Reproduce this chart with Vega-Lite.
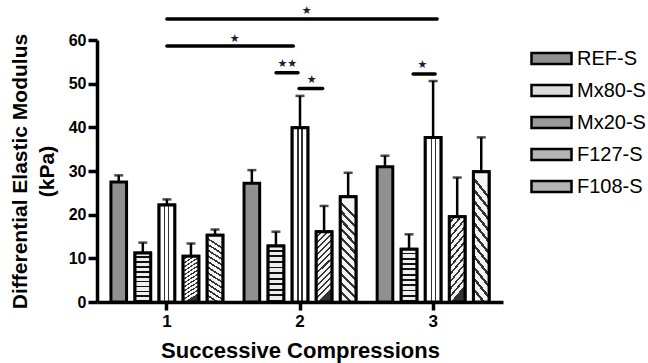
{
  "$schema": "https://vega.github.io/schema/vega-lite/v6.json",
  "width": 406,
  "height": 262,
  "autosize": {"type": "none"},
  "padding": {"left": 97, "top": 40, "right": 145, "bottom": 61},
  "background": "white",
  "config": {
    "view": {"stroke": null},
    "font": "Liberation Sans",
    "axis": {"grid": false, "domainColor": "black", "tickColor": "black", "labelColor": "black", "titleColor": "black", "labelFont": "Liberation Sans", "titleFont": "Liberation Sans", "labelFontWeight": "bold", "titleFontWeight": "bold"}
  },
  "datasets": {
    "bars": [
      {"group": "1", "series": "REF-S", "value": 27.5, "upper": 29.0},
      {"group": "1", "series": "Mx20-S", "value": 11.2, "upper": 13.6},
      {"group": "1", "series": "Mx80-S", "value": 22.2, "upper": 23.5},
      {"group": "1", "series": "F127-S", "value": 10.5, "upper": 13.4},
      {"group": "1", "series": "F108-S", "value": 15.3, "upper": 16.6},
      {"group": "2", "series": "REF-S", "value": 27.2, "upper": 30.2},
      {"group": "2", "series": "Mx20-S", "value": 12.8, "upper": 16.1},
      {"group": "2", "series": "Mx80-S", "value": 39.9, "upper": 47.2},
      {"group": "2", "series": "F127-S", "value": 16.1, "upper": 22.0},
      {"group": "2", "series": "F108-S", "value": 24.1, "upper": 29.6},
      {"group": "3", "series": "REF-S", "value": 31.0, "upper": 33.5},
      {"group": "3", "series": "Mx20-S", "value": 12.1, "upper": 15.5},
      {"group": "3", "series": "Mx80-S", "value": 37.7, "upper": 50.6},
      {"group": "3", "series": "F127-S", "value": 19.5, "upper": 28.5},
      {"group": "3", "series": "F108-S", "value": 29.8, "upper": 37.7}
    ],
    "sig": [
      {"x": 1.0, "x2": 3.03, "y": 64.8},
      {"x": 1.0, "x2": 1.95, "y": 58.6},
      {"x": 1.82, "x2": 1.985, "y": 52.5},
      {"x": 1.993, "x2": 2.17, "y": 48.9},
      {"x": 2.85, "x2": 3.015, "y": 52.2}
    ],
    "stars": [
      {"x": 2.05, "y": 66.6, "label": "★"},
      {"x": 1.51, "y": 60.3, "label": "★"},
      {"x": 1.905, "y": 54.4, "label": "★★"},
      {"x": 2.088, "y": 50.8, "label": "★"},
      {"x": 2.92, "y": 54.2, "label": "★"}
    ]
  },
  "layer": [
    {
      "data": {"name": "bars"},
      "encoding": {
        "x": {"field": "group", "type": "nominal", "scale": {"paddingInner": 0, "paddingOuter": 0.025},
          "axis": {"title": "Successive Compressions", "labelAngle": 0, "labelFontSize": 17, "titleFontSize": 22, "labelPadding": 3, "titlePadding": 11, "domainWidth": 3.5, "tickWidth": 3.5, "tickSize": 8}},
        "xOffset": {"field": "series", "type": "nominal", "sort": ["REF-S", "Mx20-S", "Mx80-S", "F127-S", "F108-S"], "scale": {"paddingInner": 0.35, "paddingOuter": 0.44}},
        "y": {"field": "value", "type": "quantitative", "scale": {"domain": [0, 60], "nice": false},
          "axis": {"title": ["Differential Elastic Modulus", "(kPa)"], "values": [0, 10, 20, 30, 40, 50, 60], "labelFontSize": 16, "titleFontSize": 21, "titleLineHeight": 27, "labelPadding": 2, "titlePadding": 11, "domainWidth": 3.5, "tickWidth": 3.5, "tickSize": 9}}
      },
      "layer": [
        {
          "mark": {"type": "bar", "stroke": "black", "strokeWidth": 3},
          "encoding": {
            "fill": {"field": "series", "type": "nominal",
              "scale": {"domain": ["REF-S", "Mx80-S", "Mx20-S", "F127-S", "F108-S"], "range": ["#909090", "#dcdcdc", "#9a9a9a", "#b4b4b4", "#b4b4b4"]},
              "legend": {"title": null, "orient": "none", "legendX": 433, "legendY": -3, "symbolType": "M-1,-0.27L1,-0.27L1,0.27L-1,0.27Z", "symbolSize": 1600, "symbolStrokeColor": "black", "symbolStrokeWidth": 2.5, "labelFontSize": 20, "labelFont": "Liberation Sans", "labelColor": "black", "labelOffset": 4, "rowPadding": -11}}
          }
        },
        {
          "transform": [{"filter": "datum.series === 'Mx20-S'"}],
          "mark": {"type": "bar", "stroke": "black", "strokeWidth": 3,
            "fill": {"gradient": "linear", "x1": 0, "y1": 0, "x2": 0, "y2": 1, "stops": [
              {"offset": 0.0, "color": "#eeeeee"}, {"offset": 0.065, "color": "#eeeeee"}, {"offset": 0.065, "color": "#111111"}, {"offset": 0.1, "color": "#111111"},
              {"offset": 0.1, "color": "#eeeeee"}, {"offset": 0.165, "color": "#eeeeee"}, {"offset": 0.165, "color": "#111111"}, {"offset": 0.2, "color": "#111111"},
              {"offset": 0.2, "color": "#eeeeee"}, {"offset": 0.265, "color": "#eeeeee"}, {"offset": 0.265, "color": "#111111"}, {"offset": 0.3, "color": "#111111"},
              {"offset": 0.3, "color": "#eeeeee"}, {"offset": 0.365, "color": "#eeeeee"}, {"offset": 0.365, "color": "#111111"}, {"offset": 0.4, "color": "#111111"},
              {"offset": 0.4, "color": "#eeeeee"}, {"offset": 0.465, "color": "#eeeeee"}, {"offset": 0.465, "color": "#111111"}, {"offset": 0.5, "color": "#111111"},
              {"offset": 0.5, "color": "#eeeeee"}, {"offset": 0.565, "color": "#eeeeee"}, {"offset": 0.565, "color": "#111111"}, {"offset": 0.6, "color": "#111111"},
              {"offset": 0.6, "color": "#eeeeee"}, {"offset": 0.665, "color": "#eeeeee"}, {"offset": 0.665, "color": "#111111"}, {"offset": 0.7, "color": "#111111"},
              {"offset": 0.7, "color": "#eeeeee"}, {"offset": 0.765, "color": "#eeeeee"}, {"offset": 0.765, "color": "#111111"}, {"offset": 0.8, "color": "#111111"},
              {"offset": 0.8, "color": "#eeeeee"}, {"offset": 0.865, "color": "#eeeeee"}, {"offset": 0.865, "color": "#111111"}, {"offset": 0.9, "color": "#111111"},
              {"offset": 0.9, "color": "#eeeeee"}, {"offset": 0.965, "color": "#eeeeee"}, {"offset": 0.965, "color": "#111111"}, {"offset": 1.0, "color": "#111111"}
            ]}}
        },
        {
          "transform": [{"filter": "datum.series === 'Mx80-S'"}],
          "mark": {"type": "bar", "stroke": "black", "strokeWidth": 3,
            "fill": {"gradient": "linear", "x1": 0, "y1": 0, "x2": 1, "y2": 0, "stops": [
              {"offset": 0.0, "color": "white"}, {"offset": 0.34, "color": "white"}, {"offset": 0.34, "color": "#333333"}, {"offset": 0.41, "color": "#333333"}, {"offset": 0.41, "color": "white"},
              {"offset": 0.59, "color": "white"}, {"offset": 0.59, "color": "#333333"}, {"offset": 0.66, "color": "#333333"}, {"offset": 0.66, "color": "white"}, {"offset": 1.0, "color": "white"}
            ]}}
        },
        {
          "transform": [{"filter": "datum.series === 'F127-S'"}],
          "mark": {"type": "bar", "stroke": "black", "strokeWidth": 3,
            "fill": {"gradient": "linear", "x1": 0, "y1": 0, "x2": 0.22, "y2": 1, "stops": [
              {"offset": 0.0, "color": "#f4f4f4"}, {"offset": 0.055, "color": "#f4f4f4"}, {"offset": 0.055, "color": "#333333"}, {"offset": 0.0833, "color": "#333333"},
              {"offset": 0.0833, "color": "#f4f4f4"}, {"offset": 0.1383, "color": "#f4f4f4"}, {"offset": 0.1383, "color": "#333333"}, {"offset": 0.1667, "color": "#333333"},
              {"offset": 0.1667, "color": "#f4f4f4"}, {"offset": 0.2217, "color": "#f4f4f4"}, {"offset": 0.2217, "color": "#333333"}, {"offset": 0.25, "color": "#333333"},
              {"offset": 0.25, "color": "#f4f4f4"}, {"offset": 0.305, "color": "#f4f4f4"}, {"offset": 0.305, "color": "#333333"}, {"offset": 0.3333, "color": "#333333"},
              {"offset": 0.3333, "color": "#f4f4f4"}, {"offset": 0.3883, "color": "#f4f4f4"}, {"offset": 0.3883, "color": "#333333"}, {"offset": 0.4167, "color": "#333333"},
              {"offset": 0.4167, "color": "#f4f4f4"}, {"offset": 0.4717, "color": "#f4f4f4"}, {"offset": 0.4717, "color": "#333333"}, {"offset": 0.5, "color": "#333333"},
              {"offset": 0.5, "color": "#f4f4f4"}, {"offset": 0.555, "color": "#f4f4f4"}, {"offset": 0.555, "color": "#333333"}, {"offset": 0.5833, "color": "#333333"},
              {"offset": 0.5833, "color": "#f4f4f4"}, {"offset": 0.6383, "color": "#f4f4f4"}, {"offset": 0.6383, "color": "#333333"}, {"offset": 0.6667, "color": "#333333"},
              {"offset": 0.6667, "color": "#f4f4f4"}, {"offset": 0.7217, "color": "#f4f4f4"}, {"offset": 0.7217, "color": "#333333"}, {"offset": 0.75, "color": "#333333"},
              {"offset": 0.75, "color": "#f4f4f4"}, {"offset": 0.805, "color": "#f4f4f4"}, {"offset": 0.805, "color": "#333333"}, {"offset": 0.8333, "color": "#333333"},
              {"offset": 0.8333, "color": "#f4f4f4"}, {"offset": 0.8883, "color": "#f4f4f4"}, {"offset": 0.8883, "color": "#333333"}, {"offset": 0.9167, "color": "#333333"},
              {"offset": 0.9167, "color": "#f4f4f4"}, {"offset": 0.9717, "color": "#f4f4f4"}, {"offset": 0.9717, "color": "#333333"}, {"offset": 1.0, "color": "#333333"}
            ]}}
        },
        {
          "transform": [{"filter": "datum.series === 'F108-S'"}],
          "mark": {"type": "bar", "stroke": "black", "strokeWidth": 3,
            "fill": {"gradient": "linear", "x1": 0.15, "y1": 0, "x2": 0, "y2": 1, "stops": [
              {"offset": 0.0, "color": "#f4f4f4"}, {"offset": 0.055, "color": "#f4f4f4"}, {"offset": 0.055, "color": "#333333"}, {"offset": 0.0833, "color": "#333333"},
              {"offset": 0.0833, "color": "#f4f4f4"}, {"offset": 0.1383, "color": "#f4f4f4"}, {"offset": 0.1383, "color": "#333333"}, {"offset": 0.1667, "color": "#333333"},
              {"offset": 0.1667, "color": "#f4f4f4"}, {"offset": 0.2217, "color": "#f4f4f4"}, {"offset": 0.2217, "color": "#333333"}, {"offset": 0.25, "color": "#333333"},
              {"offset": 0.25, "color": "#f4f4f4"}, {"offset": 0.305, "color": "#f4f4f4"}, {"offset": 0.305, "color": "#333333"}, {"offset": 0.3333, "color": "#333333"},
              {"offset": 0.3333, "color": "#f4f4f4"}, {"offset": 0.3883, "color": "#f4f4f4"}, {"offset": 0.3883, "color": "#333333"}, {"offset": 0.4167, "color": "#333333"},
              {"offset": 0.4167, "color": "#f4f4f4"}, {"offset": 0.4717, "color": "#f4f4f4"}, {"offset": 0.4717, "color": "#333333"}, {"offset": 0.5, "color": "#333333"},
              {"offset": 0.5, "color": "#f4f4f4"}, {"offset": 0.555, "color": "#f4f4f4"}, {"offset": 0.555, "color": "#333333"}, {"offset": 0.5833, "color": "#333333"},
              {"offset": 0.5833, "color": "#f4f4f4"}, {"offset": 0.6383, "color": "#f4f4f4"}, {"offset": 0.6383, "color": "#333333"}, {"offset": 0.6667, "color": "#333333"},
              {"offset": 0.6667, "color": "#f4f4f4"}, {"offset": 0.7217, "color": "#f4f4f4"}, {"offset": 0.7217, "color": "#333333"}, {"offset": 0.75, "color": "#333333"},
              {"offset": 0.75, "color": "#f4f4f4"}, {"offset": 0.805, "color": "#f4f4f4"}, {"offset": 0.805, "color": "#333333"}, {"offset": 0.8333, "color": "#333333"},
              {"offset": 0.8333, "color": "#f4f4f4"}, {"offset": 0.8883, "color": "#f4f4f4"}, {"offset": 0.8883, "color": "#333333"}, {"offset": 0.9167, "color": "#333333"},
              {"offset": 0.9167, "color": "#f4f4f4"}, {"offset": 0.9717, "color": "#f4f4f4"}, {"offset": 0.9717, "color": "#333333"}, {"offset": 1.0, "color": "#333333"}
            ]}}
        },
        {
          "mark": {"type": "rule", "color": "black", "strokeWidth": 2.5},
          "encoding": {"y2": {"field": "upper"}}
        },
        {
          "mark": {"type": "tick", "color": "black", "thickness": 2.5, "size": 9, "orient": "horizontal"},
          "encoding": {"y": {"field": "upper", "type": "quantitative"}}
        }
      ]
    },
    {
      "layer": [
        {
          "data": {"name": "sig"},
          "mark": {"type": "rule", "color": "black", "strokeWidth": 3.5, "strokeCap": "round"},
          "encoding": {
            "x": {"field": "x", "type": "quantitative", "scale": {"domain": [0.475, 3.525], "nice": false, "zero": false}, "axis": null},
            "x2": {"field": "x2"},
            "y": {"field": "y", "type": "quantitative", "scale": {"domain": [0, 60], "nice": false}}
          }
        },
        {
          "data": {"name": "stars"},
          "mark": {"type": "text", "color": "#1c1c3c", "fontSize": 11, "font": "DejaVu Sans", "baseline": "middle"},
          "encoding": {
            "x": {"field": "x", "type": "quantitative", "scale": {"domain": [0.475, 3.525], "nice": false, "zero": false}, "axis": null},
            "y": {"field": "y", "type": "quantitative"},
            "text": {"field": "label"}
          }
        }
      ]
    }
  ],
  "resolve": {"scale": {"x": "independent"}}
}
